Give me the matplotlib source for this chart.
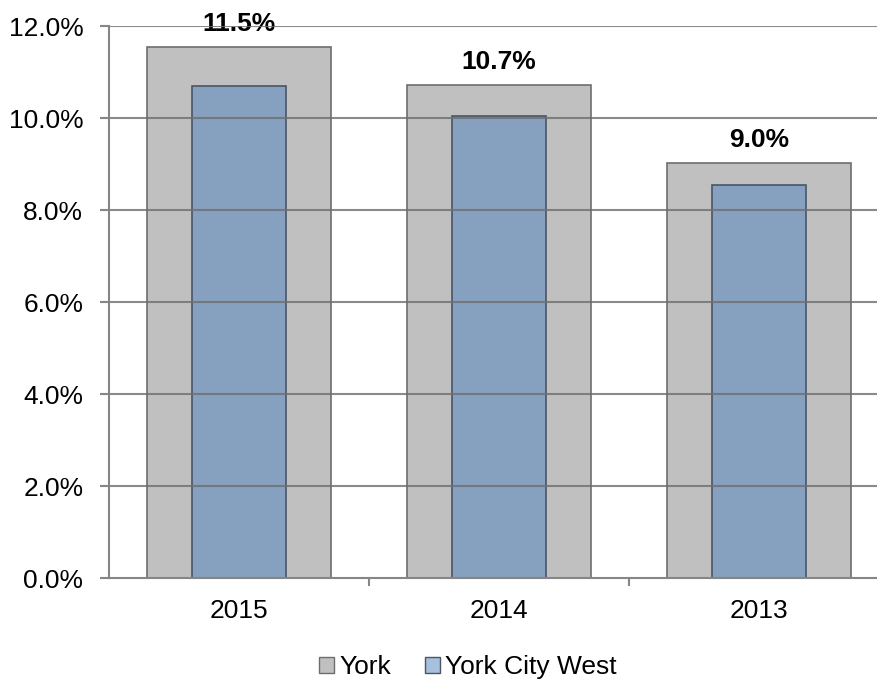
import matplotlib
matplotlib.use("Agg")
import matplotlib.pyplot as plt
from matplotlib.patches import Patch

categories = ["2015", "2014", "2013"]
york = [11.55, 10.72, 9.02]
york_city_west = [10.70, 10.04, 8.54]
labels = ["11.5%", "10.7%", "9.0%"]
yticks = [0, 2, 4, 6, 8, 10, 12]

plt.rcParams['font.family'] = ['Liberation Sans', 'DejaVu Sans']

W, H = 878, 684
fig = plt.figure(figsize=(W / 100, H / 100), dpi=100)
left, right, top, bottom = 109, 878, 26, 578
ax = fig.add_axes([left / W, 1 - bottom / H, (right - left) / W, (bottom - top) / H])

x = list(range(len(categories)))
grid_c = '#868686'
ax.bar(x, york, width=0.71, color='#C0C0C0', edgecolor='#6E6E6E', linewidth=1.2, zorder=2)
ax.bar(x, york_city_west, width=0.365, color='#86A0BF', edgecolor='#4A5566', linewidth=1.2, zorder=3)

for xi, v, t in zip(x, york, labels):
    ax.annotate(t, (xi, v), xytext=(0, 8), textcoords='offset points',
                ha='center', va='bottom', fontsize=19, fontweight='bold', color='black')

ax.set_xlim(-0.5, 2.5 - 11 / 260)
ax.set_ylim(0, 12)
ax.set_yticks(yticks)
ax.set_yticklabels([f"{v:.1f}%" for v in yticks], fontsize=19)
for yv in yticks[1:]:
    ax.axhline(yv, color='#6E6E6E', linewidth=1.5, alpha=0.8, zorder=4)

ax.set_xticks(x)
ax.set_xticklabels(categories, fontsize=19)
ax.tick_params(axis='x', length=0, pad=15)
ax.set_xticks([0.5, 1.5], minor=True)
ax.tick_params(axis='x', which='minor', length=6, color=grid_c, width=1.5)
ax.tick_params(axis='y', length=6.5, color=grid_c, width=1.5, pad=12)

for s in ['top', 'right']:
    ax.spines[s].set_visible(False)
for s in ['left', 'bottom']:
    ax.spines[s].set_color(grid_c)
    ax.spines[s].set_linewidth(1.5)
    ax.spines[s].set_zorder(5)

handles = [Patch(facecolor='#C0C0C0', edgecolor='#6E6E6E', label='York'),
           Patch(facecolor='#A7C0DE', edgecolor='#4A5566', label='York City West')]
fig.legend(handles=handles, loc='center', bbox_to_anchor=(468 / W, 1 - 667 / H), ncol=2,
           frameon=False, fontsize=19, handlelength=0.55, handleheight=0.55,
           handletextpad=0.2, columnspacing=1.3, borderpad=0.2)

fig.savefig("out.png", dpi=100)
